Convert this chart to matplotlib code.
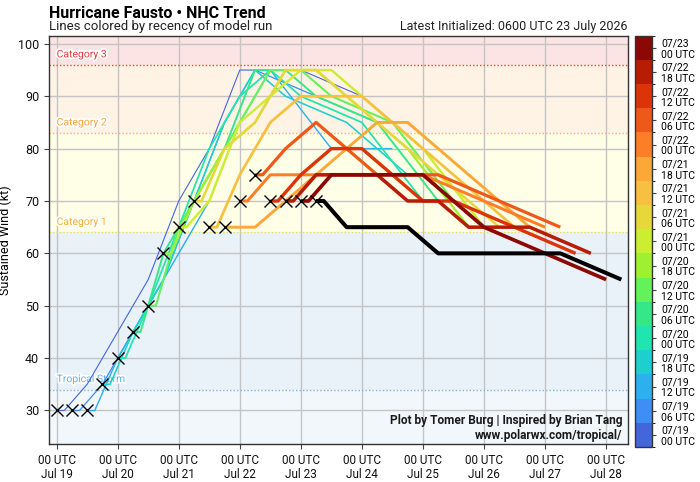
import numpy as np
import matplotlib
matplotlib.use('Agg')
import matplotlib.pyplot as plt
from matplotlib.colors import ListedColormap, BoundaryNorm
import matplotlib.patheffects as pe

# ---------------- data ----------------
fhours = [0, 3, 12, 24, 36, 48, 60, 72, 96, 120]
init_hours = [0, 6, 12, 18, 24, 30, 36, 42, 48, 54, 60, 66, 72, 78, 84, 90, 96, 102]
init_labels = ['07/19\n00 UTC', '07/19\n06 UTC', '07/19\n12 UTC', '07/19\n18 UTC',
               '07/20\n00 UTC', '07/20\n06 UTC', '07/20\n12 UTC', '07/20\n18 UTC',
               '07/21\n00 UTC', '07/21\n06 UTC', '07/21\n12 UTC', '07/21\n18 UTC',
               '07/22\n00 UTC', '07/22\n06 UTC', '07/22\n12 UTC', '07/22\n18 UTC',
               '07/23\n00 UTC']
forecasts = [
    [30, 30, 35, 45, 55, 70, 80, 95, 95, 90],
    [30, 30, 35, 45, 55, 70, 85, 95, 90, 85],
    [30, 30, 40, 50, 60, 70, 85, 95, 80, 80],
    [35, 35, 45, 55, 70, 85, 95, 90, 85, 75],
    [40, 40, 50, 65, 80, 90, 95, 90, 85, 70],
    [45, 45, 60, 70, 80, 95, 95, 90, 85, 70],
    [50, 50, 65, 75, 85, 95, 95, 90, 85, 70],
    [60, 60, 70, 80, 85, 95, 95, 90, 80, 65],
    [65, 65, 70, 85, 90, 95, 95, 90, 80, 65],
    [70, 70, 80, 85, 95, 95, 90, 85, 75, 65],
    [65, 65, 75, 85, 90, 90, 90, 85, 75, 65],
    [65, 65, 65, 70, 75, 80, 85, 85, 75, 65],
    [70, 70, 75, 75, 75, 75, 75, 75, 70, 65],
    [75, 75, 80, 85, 80, 75, 75, 75, 70, 65],
    [70, 70, 75, 80, 80, 75, 70, 70, 65, 60],
    [70, 70, 75, 75, 75, 70, 70, 65, 65, 60],
    [70, 70, 75, 75, 75, 75, 70, 65, 60, 55],
    [70, 70, 65, 65, 65, 60, 60, 60, 60, 55],
]
run_colors = ['#4466dd', '#3f8ef5', '#2eb0ee', '#1ecfd0', '#1fe6b0', '#34e888',
              '#64f25a', '#a0f032', '#cdee30', '#e6d838', '#f8c040', '#fca838',
              '#fc7f28', '#ee5818', '#dc3408', '#b81c04', '#8c0804']
latest_color = '#000000'

xtick_hours = [0, 24, 48, 72, 96, 120, 144, 168, 192, 216]
xtick_labels = ['00 UTC\nJul 19', '00 UTC\nJul 20', '00 UTC\nJul 21', '00 UTC\nJul 22',
                '00 UTC\nJul 23', '00 UTC\nJul 24', '00 UTC\nJul 25', '00 UTC\nJul 26',
                '00 UTC\nJul 27', '00 UTC\nJul 28']
yticks = [30, 40, 50, 60, 70, 80, 90, 100]

thresholds = [34, 64, 83, 96]
cat_names = ['Tropical Storm', 'Category 1', 'Category 2', 'Category 3']
cat_line_colors = ['#7fb5e6', '#f2e04a', '#ffb937', '#ee4040']
cat_text_colors = ['#6aaee8', '#f6ad35', '#f8a43a', '#e23a3a']
band_edges = [0, 34, 64, 83, 96, 200]
band_colors = ['#f2f7fc', '#e9f1f9', '#fffee6', '#fef3e5', '#fde4e4']

# ---------------- plot ----------------
plt.rcParams['font.family'] = ['Roboto', 'DejaVu Sans']
fig = plt.figure(figsize=(7.0, 4.82), dpi=100)
ax = fig.add_axes([0.07, 0.0788, 0.8271, 0.8465])

ylim = (23.6, 101.5)
xlim = (-3.0, 224.6)

for i in range(len(band_colors)):
    ax.axhspan(band_edges[i], band_edges[i + 1], color=band_colors[i], zorder=0, lw=0)

ax.grid(True, color='#c4c4c4', lw=1.0, zorder=1)
ax.set_axisbelow(True)

for th, nm, lc, tc in zip(thresholds, cat_names, cat_line_colors, cat_text_colors):
    ax.axhline(th, color=lc, lw=1.0, ls=(0, (1, 1.5)), zorder=2)
    ax.text(0, th + 2, nm, color=tc, fontsize=7.5, va='center', ha='left', zorder=3,
            path_effects=[pe.withStroke(linewidth=2.5, foreground='white')])

for i, (h0, vals) in enumerate(zip(init_hours, forecasts)):
    xs = [h0 + f for f in fhours]
    if i < len(run_colors):
        c = run_colors[i]
        lw = 0.8 + 1.85 * i / (len(run_colors) - 1)
    else:
        c = latest_color
        lw = 2.9
    ax.plot(xs, vals, color=c, lw=lw, zorder=4 + i * 0.01, solid_capstyle='butt')

init_vals = [v[0] for v in forecasts]
ax.plot(init_hours, init_vals, ls='none', marker='x', ms=8, mew=1.0, color='black', zorder=6)

ax.set_xlim(*xlim)
ax.set_ylim(*ylim)
ax.set_xticks(xtick_hours)
ax.set_xticklabels(xtick_labels, fontsize=8.5, linespacing=1.15)
ax.set_yticks(yticks)
ax.set_yticklabels([str(v) for v in yticks], fontsize=9)
ax.tick_params(axis='both', length=3.5, color='#444444', labelcolor='#111111')
for s in ax.spines.values():
    s.set_color('#333333')
    s.set_linewidth(1.0)
ax.set_ylabel('Sustained Wind (kt)', fontsize=9, labelpad=4)

ax.text(0.99, 0.058, 'Plot by Tomer Burg | Inspired by Brian Tang', transform=ax.transAxes,
        ha='right', va='center', fontsize=8.6, fontweight='bold', color='#1a1a1a', zorder=8)
ax.text(0.99, 0.022, 'www.polarwx.com/tropical/', transform=ax.transAxes,
        ha='right', va='center', fontsize=8.6, fontweight='bold', color='#1a1a1a', zorder=8)

fig.text(0.07, 0.973, 'Hurricane Fausto \u2022 NHC Trend', fontsize=11.5, fontweight='bold',
         ha='left', va='center')
fig.text(0.07, 0.944, 'Lines colored by recency of model run', fontsize=9.5,
         ha='left', va='center', color='#222222')
fig.text(0.897, 0.944, 'Latest Initialized: 0600 UTC 23 July 2026', fontsize=9,
         ha='right', va='center', color='#222222')

# colorbar
cax = fig.add_axes([0.9067, 0.0726, 0.0247, 0.8534])
cmap = ListedColormap(run_colors)
bounds = np.arange(len(run_colors) + 1) - 0.5
norm = BoundaryNorm(bounds, cmap.N)
sm = plt.cm.ScalarMappable(cmap=cmap, norm=norm)
cb = fig.colorbar(sm, cax=cax, ticks=np.arange(len(run_colors)))
cb.ax.set_yticklabels(init_labels, fontsize=7.5, linespacing=1.1)
cb.ax.tick_params(length=3, width=0.8, color='#444444')
cb.outline.set_edgecolor('#333333')
cb.outline.set_linewidth(1.0)

fig.savefig('out.png', dpi=100)
